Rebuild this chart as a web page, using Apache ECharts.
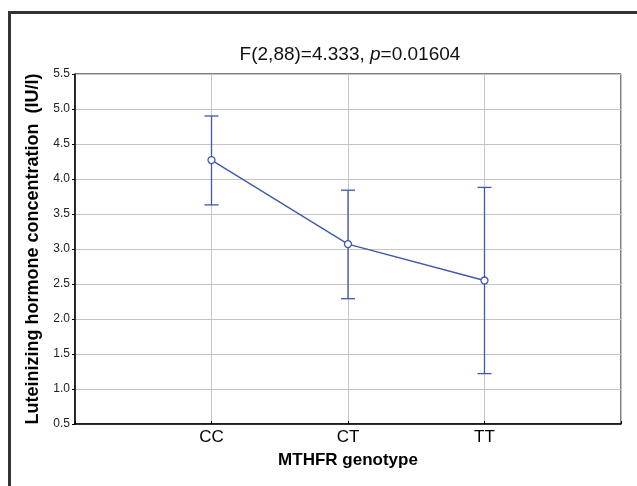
<!DOCTYPE html>
<html>
<head>
<meta charset="utf-8">
<script src="https://cdn.jsdelivr.net/npm/echarts@6/dist/echarts.min.js"></script>
<style>html,body{margin:0;padding:0;background:#fff}#chart{width:637px;height:486px}</style>
</head>
<body>
<div id="chart"></div>
<script>
var categories = ['CC', 'CT', 'TT'];
var means = [4.27, 3.07, 2.55];
var lowerCI = [3.63, 2.29, 1.22];
var upperCI = [4.90, 3.84, 3.88];
var yTicks = [0.5, 1.0, 1.5, 2.0, 2.5, 3.0, 3.5, 4.0, 4.5, 5.0, 5.5];

var color = '#3d58ac';
var font = 'Liberation Sans, Arial, sans-serif';
var chart = echarts.init(document.getElementById('chart'), null, {renderer: 'canvas'});

var lineData = means.map(function (m, i) { return [i + 1, m]; });
var errData = means.map(function (m, i) { return [i + 1, lowerCI[i], upperCI[i]]; });

chart.setOption({
  animation: false,
  backgroundColor: '#fff',
  title: {
    text: 'F(2,88)=4.333, {i|p}=0.01604',
    left: 345, top: 40, textAlign: 'center',
    textStyle: {
      fontFamily: font, fontSize: 19, fontWeight: 'normal', color: '#111',
      rich: { i: { fontFamily: font, fontSize: 19, fontStyle: 'italic', color: '#111' } }
    }
  },
  graphic: [{
    type: 'rect', left: 7, top: 10, silent: true,
    shape: { x: 0, y: 0, width: 700, height: 600 },
    style: { fill: 'none', stroke: '#333', lineWidth: 3 }
  }],
  grid: {
    left: 75, top: 74, right: 16, bottom: 62,
    show: true, borderColor: '#000', borderWidth: 1, backgroundColor: 'transparent'
  },
  xAxis: {
    type: 'value', min: 0, max: 4, interval: 1,
    name: 'MTHFR genotype', nameLocation: 'middle', nameGap: 28,
    nameTextStyle: { fontFamily: font, fontSize: 17, fontWeight: 'bold', color: '#000' },
    axisLine: { show: true, lineStyle: { color: '#000', width: 1.5 } },
    axisTick: { show: true, inside: true, length: 3, lineStyle: { color: '#000' } },
    axisLabel: {
      fontFamily: font, fontSize: 17, color: '#000', margin: 5,
      formatter: function (v) { var k = Math.round(v); return (k >= 1 && k <= categories.length) ? categories[k - 1] : ''; }
    },
    splitLine: { show: true, lineStyle: { color: '#c4c4c4', width: 1 } }
  },
  yAxis: {
    type: 'value', min: yTicks[0], max: yTicks[yTicks.length - 1], interval: 0.5,
    name: 'Luteinizing hormone concentration  (IU/l)', nameLocation: 'middle', nameGap: 32,
    nameTextStyle: { fontFamily: font, fontSize: 18, fontWeight: 'bold', color: '#000' },
    axisLine: { show: true, lineStyle: { color: '#000', width: 1.5 } },
    axisTick: { show: true, length: 3, lineStyle: { color: '#000' } },
    axisLabel: {
      fontFamily: font, fontSize: 12, color: '#222', margin: 5,
      formatter: function (v) { return v.toFixed(1); }
    },
    splitLine: { show: true, lineStyle: { color: '#c4c4c4', width: 1 } }
  },
  series: [
    {
      type: 'custom',
      data: errData,
      z: 3,
      renderItem: function (params, api) {
        var x = api.value(0);
        var lo = api.coord([x, api.value(1)]);
        var hi = api.coord([x, api.value(2)]);
        var cap = 7;
        var st = { stroke: color, lineWidth: 1.3, fill: 'none' };
        return {
          type: 'group',
          children: [
            { type: 'line', shape: { x1: lo[0], y1: lo[1], x2: hi[0], y2: hi[1] }, style: st },
            { type: 'line', shape: { x1: lo[0] - cap, y1: lo[1], x2: lo[0] + cap, y2: lo[1] }, style: st },
            { type: 'line', shape: { x1: hi[0] - cap, y1: hi[1], x2: hi[0] + cap, y2: hi[1] }, style: st }
          ]
        };
      }
    },
    {
      type: 'line',
      data: lineData,
      z: 4,
      symbol: 'circle', symbolSize: 7,
      itemStyle: { color: '#fff', borderColor: color, borderWidth: 1.3 },
      lineStyle: { color: color, width: 1.3 }
    }
  ]
});
</script>
</body>
</html>
